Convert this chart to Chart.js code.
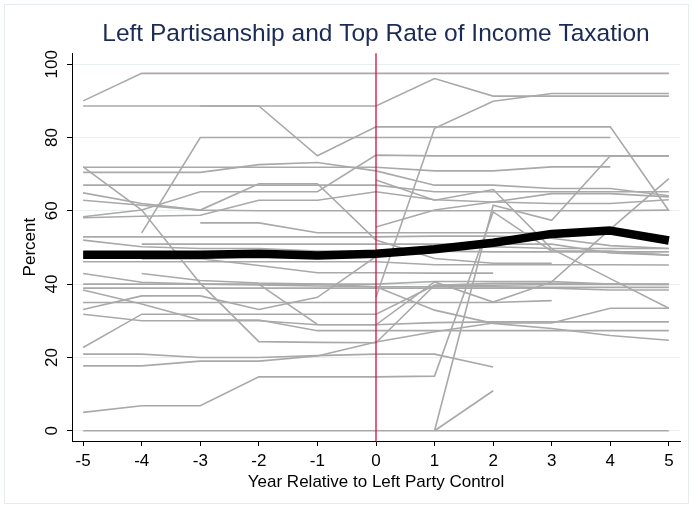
<!DOCTYPE html>
<html>
<head>
<meta charset="utf-8">
<script src="https://cdn.jsdelivr.net/npm/chart.js@4.4.1/dist/chart.umd.min.js"></script>
<style>
  html, body { margin: 0; padding: 0; background: #ffffff; }
  canvas { display: block; }
</style>
</head>
<body>
<canvas id="chart" width="693" height="508"></canvas>
<script>
// Years relative to the year a left party took control
const years = [-5, -4, -3, -2, -1, 0, 1, 2, 3, 4, 5];
const yTickValues = [0, 20, 40, 60, 80, 100];

// Average top marginal income tax rate across countries (percent)
const meanRate = [48.0, 48.0, 48.0, 48.3, 47.8, 48.3, 49.5, 51.3, 53.7, 54.6, 51.9];

// Top marginal income tax rate per country episode (percent); null = not observed
const c01 = [90.0, 97.5, 97.5, 97.5, 97.5, 97.5, 97.5, 97.5, 97.5, 97.5, 97.5];
const c02 = [88.6, 88.6, 88.6, 88.6, 88.6, 88.6, 96.1, 91.3, 91.3, 91.3, 91.3];
const c03 = [null, null, 88.6, 88.6, 75.0, 82.9, 82.9, 82.9, 82.9, 82.9, 60.0];
const c04 = [null, 54.0, 80.0, 80.0, 80.0, 80.0, 80.0, 80.0, 80.0, 80.0, null];
const c05 = [72.0, 60.2, 40.2, 24.3, 24.1, 24.0, 39.7, 40.2, 40.2, 40.0, 39.9];
const c06 = [71.9, 71.9, 71.9, 71.9, 71.9, 71.9, 70.9, 70.9, 72.0, 72.0, null];
const c07 = [70.5, 70.5, 70.5, 72.6, 73.2, 70.9, 67.0, 67.0, 66.1, 66.1, 64.1];
const c08 = [67.0, 67.0, 67.0, 67.0, 67.0, 67.0, 65.2, 65.2, 65.2, 65.2, 65.2];
const c09 = [64.9, 62.0, 60.2, 60.0, 60.0, 60.0, 60.0, 60.0, 60.0, 60.0, 60.2];
const c10 = [62.9, 61.5, 60.2, 67.4, 67.4, 52.0, 47.0, 45.7, 45.7, null, null];
const c11 = [58.4, 60.2, 65.2, 65.2, 65.2, 75.2, 75.0, 75.0, 75.0, 75.0, 75.0];
const c12 = [58.1, 58.5, 58.8, 62.9, 62.9, 65.2, 63.0, 62.4, 62.0, 62.0, 63.0];
const c13 = [52.9, 52.9, 52.9, 52.9, 52.9, 52.9, 53.1, 53.1, 52.5, 50.5, 49.7];
const c14 = [52.0, 50.2, 49.7, 49.7, 49.0, 49.0, 49.0, 48.8, 48.8, 48.8, 48.8];
const c15 = [null, 50.9, 50.9, 50.9, 50.9, 50.9, 50.9, 50.9, 50.9, 48.5, 47.9];
const c16 = [null, null, 56.7, 56.7, 54.0, 54.0, 54.0, 54.0, 54.0, null, null];
const c17 = [46.1, 46.1, 46.1, 46.1, 46.1, 46.1, 45.3, 45.3, 45.3, 45.3, 45.2];
const c18 = [null, 46.9, 46.9, 45.1, 43.1, 43.1, 43.0, 43.0, null, null, null];
const c19 = [42.9, 40.5, 40.0, 39.8, 39.5, 39.3, 39.3, 39.3, 39.1, 39.1, 39.1];
const c20 = [null, 42.9, 41.0, 40.3, 40.0, 40.0, 40.7, 40.7, 40.7, 40.0, 40.0];
const c21 = [40.0, 40.0, 40.0, 40.0, 40.0, 39.3, 32.9, 29.3, 27.9, 26.0, 24.7];
const c22 = [38.9, 38.9, 38.9, 38.9, 38.9, 38.9, 38.9, 38.9, 38.9, 38.4, 38.4];
const c23 = [38.4, 34.6, 30.2, 30.2, 27.3, 27.3, 27.3, 27.3, 27.3, 27.3, 27.3];
const c24 = [35.0, 35.0, 35.0, 35.0, 35.0, 35.0, 35.0, 35.0, 35.5, null, null];
const c25 = [33.1, 36.8, 36.8, 33.1, 36.4, 47.5, 49.5, 50.2, 49.7, 49.7, 49.7];
const c26 = [31.8, 30.0, 30.0, 30.0, 28.9, 28.9, 40.6, 35.1, 40.6, 55.0, 68.8];
const c27 = [22.7, 31.8, 31.8, 31.8, 31.8, 31.8, 39.7, 39.7, 39.9, 39.9, 39.9];
const c28 = [20.9, 20.9, 20.0, 20.0, 20.5, 20.9, 20.9, 17.4, null, null, null];
const c29 = [17.7, 17.7, 19.0, 19.0, 20.4, 24.2, 27.0, 29.4, 29.4, 33.4, 33.4];
const c30 = [5.0, 6.8, 6.8, 14.7, 14.7, 14.7, 14.9, 59.7, 49.0, 49.0, 47.9];
const c31 = [0, 0, 0, 0, 0, 0, 0, 0, 0, 0, 0];
const c32 = [null, null, null, null, null, null, 0, 10.9, null, null, null];
const c33 = [null, null, null, null, null, null, 0, 61.5, 57.4, 75.0, 75.0];
const c34 = [null, null, null, null, null, 36.5, 82.5, 89.9, 92.0, 92.0, 92.0];
const c35 = [null, null, null, null, null, 55.6, 60.2, 62.4, 64.7, 64.7, 63.8];
const c36 = [null, null, null, 40.0, 29.0, 28.9, 29.5, 29.7, 29.7, 29.7, 29.7];
const c37 = [null, null, null, null, null, 68.4, 62.9, 65.8, 49.6, 41.5, 33.4];

const countrySeries = [c01, c02, c03, c04, c05, c06, c07, c08, c09, c10, c11, c12, c13,
  c14, c15, c16, c17, c18, c19, c20, c21, c22, c23, c24, c25, c26, c27, c28, c29, c30,
  c31, c32, c33, c34, c35, c36, c37];

const FONT = '"Liberation Sans", Arial, Helvetica, sans-serif';
const toPoints = arr => arr.map((v, i) => ({ x: years[i], y: v }));

const datasets = [{
  label: 'Mean',
  data: toPoints(meanRate),
  borderColor: '#000000',
  borderWidth: 8.5,
  borderJoinStyle: 'round',
  pointRadius: 0,
  order: 0
}];
countrySeries.forEach((arr, k) => {
  datasets.push({
    label: 'Country ' + (k + 1),
    data: toPoints(arr),
    borderColor: '#a9a9a9',
    borderWidth: 1.6,
    pointRadius: 0,
    spanGaps: false,
    order: 1
  });
});

// Faint frame around the graph, the vertical marker at year 0, and rotated y labels
const decorations = {
  id: 'decorations',
  beforeDraw(chart) {
    const ctx = chart.ctx;
    ctx.save();
    ctx.fillStyle = '#ffffff';
    ctx.fillRect(0, 0, chart.width, chart.height);
    ctx.strokeStyle = '#e4ecef';
    ctx.lineWidth = 1;
    ctx.strokeRect(4.5, 4.5, chart.width - 9, chart.height - 9);
    ctx.restore();
  },
  beforeDatasetDraw(chart, args) {
    if (args.index !== 0) return;
    const ctx = chart.ctx;
    const xs = chart.scales.x;
    const area = chart.chartArea;
    const px = xs.getPixelForValue(0);
    ctx.save();
    ctx.strokeStyle = '#d0103a';
    ctx.lineWidth = 1.3;
    ctx.beginPath();
    ctx.moveTo(px, area.top);
    ctx.lineTo(px, area.bottom);
    ctx.stroke();
    ctx.restore();
  },
  afterDraw(chart) {
    const ctx = chart.ctx;
    const ys = chart.scales.y;
    ctx.save();
    ctx.fillStyle = '#000000';
    ctx.font = '17px ' + FONT;
    ctx.textAlign = 'center';
    ctx.textBaseline = 'alphabetic';
    ys.ticks.forEach(t => {
      const py = ys.getPixelForValue(t.value);
      ctx.save();
      ctx.translate(57, py);
      ctx.rotate(-Math.PI / 2);
      ctx.fillText(String(t.value), 0, 0);
      ctx.restore();
    });
    ctx.restore();
  }
};

new Chart(document.getElementById('chart'), {
  type: 'line',
  data: { datasets },
  plugins: [decorations],
  options: {
    responsive: false,
    animation: false,
    layout: { padding: { left: 0, right: 13, top: 0, bottom: 0 } },
    plugins: {
      legend: { display: false },
      tooltip: { enabled: false },
      title: {
        display: true,
        fullSize: false,
        text: 'Left Partisanship and Top Rate of Income Taxation',
        color: '#1c2b55',
        font: { family: FONT, size: 24.5, weight: 'normal' },
        padding: { top: 20, bottom: 3.8 }
      }
    },
    scales: {
      x: {
        type: 'linear',
        min: -5.19,
        max: 5.19,
        afterBuildTicks: s => { s.ticks = years.map(v => ({ value: v })); },
        afterFit: s => { s.height = 67; },
        ticks: {
          color: '#000000',
          font: { family: FONT, size: 17 },
          padding: 5,
          maxRotation: 0,
          callback: v => String(v)
        },
        grid: { drawOnChartArea: false, drawTicks: true, tickLength: 5, color: '#000000' },
        border: { display: true, color: '#000000', width: 1 },
        title: {
          display: true,
          text: 'Year Relative to Left Party Control',
          color: '#000000',
          font: { family: FONT, size: 17 },
          padding: { top: 0, bottom: 15 }
        }
      },
      y: {
        type: 'linear',
        min: -2.8,
        max: 103,
        afterBuildTicks: s => { s.ticks = yTickValues.map(v => ({ value: v })); },
        afterFit: s => { s.width = 72; },
        ticks: { display: false },
        grid: { color: '#e8f0f2', tickColor: '#000000', drawTicks: true, tickLength: 5, lineWidth: 1 },
        border: { display: true, color: '#000000', width: 1 },
        title: {
          display: true,
          text: 'Percent',
          color: '#000000',
          font: { family: FONT, size: 17 },
          padding: { top: 20, bottom: 0 }
        }
      }
    }
  }
});
</script>
</body>
</html>
